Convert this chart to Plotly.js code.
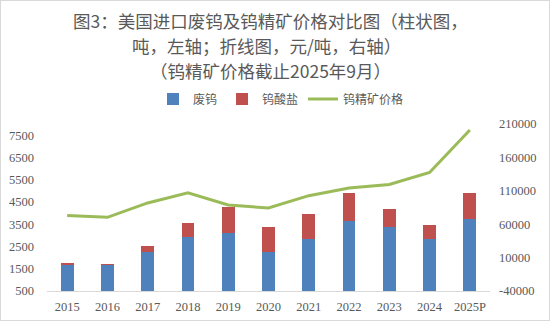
<!DOCTYPE html>
<html>
<head>
<meta charset="utf-8">
<script src="https://cdn.plot.ly/plotly-3.0.1.min.js"></script>
<style>
  html, body { margin: 0; padding: 0; background: #fff; }
  #wrap { position: relative; width: 550px; height: 321px; }
  #chart { position: absolute; left: 0; top: 0; width: 550px; height: 321px; }
  #frame { position: absolute; left: 0; top: 0; width: 550px; height: 321px; box-sizing: border-box; border: 1px solid #D9D9D9; pointer-events: none; }
</style>
</head>
<body>
<div id="wrap"><div id="chart"></div><div id="frame"></div></div>
<script>
const years = ['2015','2016','2017','2018','2019','2020','2021','2022','2023','2024','2025P'];
const scrapTungsten = [1680, 1690, 2270, 2940, 3090, 2230, 2850, 3660, 3390, 2820, 3750];
const tungstate = [60, 40, 270, 610, 1190, 1130, 1110, 1220, 790, 640, 1130];
const concentratePrice = [72900, 70300, 91800, 107100, 88800, 84300, 102700, 114100, 119500, 137400, 201000];
const leftTicks = [500, 1500, 2500, 3500, 4500, 5500, 6500, 7500];
const rightTicks = [-40000, 10000, 60000, 110000, 160000, 210000];
const rightTickText = ['-40000', '10000', '60000', '110000', '160000', '210000'];
const titleLines = ['图3：美国进口废钨及钨精矿价格对比图（柱状图，', '吨，左轴；折线图，元/吨，右轴）', '（钨精矿价格截止2025年9月）'];

const gray = '#595959';
const tickFont = { family: '"Liberation Serif", "Times New Roman", serif', size: 12.5, color: gray };
const cjk = '"Noto Sans CJK SC", "Noto Sans", sans-serif';

const W = 550, H = 321, M = { l: 47, r: 60, t: 124, b: 30 };
const plotH = H - M.t - M.b;
const lineCenters = [20.5, 45.5, 70.5];
const lineX = [270, 266, 270];

const traces = [
  { type: 'bar', name: '废钨', x: years, y: scrapTungsten, marker: { color: '#4F81BD' }, yaxis: 'y' },
  { type: 'bar', name: '钨酸盐', x: years, y: tungstate, marker: { color: '#C0504D' }, yaxis: 'y' },
  { type: 'scatter', mode: 'lines', name: '钨精矿价格', x: years, y: concentratePrice,
    line: { color: '#9BBB59', width: 3 }, yaxis: 'y2' }
];

const annotations = titleLines.map((t, i) => ({
  text: t, showarrow: false,
  xref: 'paper', yref: 'paper',
  x: (lineX[i] - M.l) / (W - M.l - M.r), xanchor: 'center',
  y: (H - M.b - lineCenters[i]) / plotH, yanchor: 'middle',
  font: { family: cjk, size: 17.5, color: gray }
}));

const layout = {
  width: W, height: H,
  margin: M,
  paper_bgcolor: '#fff', plot_bgcolor: '#fff',
  barmode: 'stack', bargap: 0.68,
  showlegend: true,
  annotations: annotations,
  legend: {
    orientation: 'h', xref: 'container', yref: 'container',
    x: 281 / 550, xanchor: 'center', y: 1 - 99 / 321, yanchor: 'middle',
    font: { family: cjk, size: 12, color: gray },
    traceorder: 'normal', itemwidth: 30
  },
  xaxis: {
    type: 'category', showgrid: false, zeroline: false,
    showline: true, linecolor: '#D9D9D9', linewidth: 1,
    ticks: '', tickfont: tickFont, ticklabelstandoff: 4
  },
  yaxis: {
    range: [500, 8000], tickvals: leftTicks, tickformat: 'd',
    showgrid: false, zeroline: false, showline: false, ticks: '',
    tickfont: tickFont, ticklabelstandoff: 12
  },
  yaxis2: {
    overlaying: 'y', side: 'right',
    range: [-40000, 210000], tickvals: rightTicks, ticktext: rightTickText,
    showgrid: false, zeroline: false, showline: false, ticks: '',
    tickfont: tickFont, ticklabelstandoff: 8
  }
};

Plotly.newPlot('chart', traces, layout, { displayModeBar: false, staticPlot: true });
</script>
</body>
</html>
